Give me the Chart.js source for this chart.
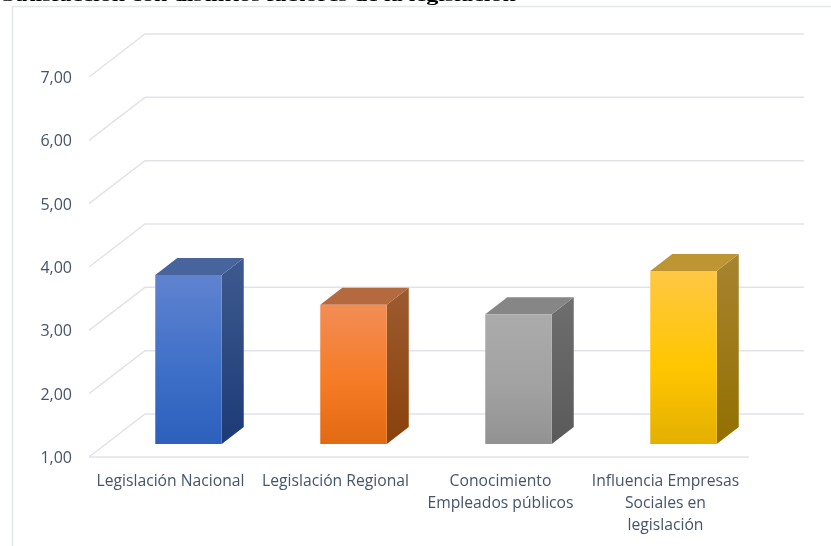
<!DOCTYPE html>
<html>
<head>
<meta charset="utf-8">
<style>
    html, body { margin: 0; padding: 0; background: #fff; }
    #wrap { position: relative; width: 831px; height: 546px; overflow: hidden; }
    #title { position: absolute; left: 2px; top: -13px; font: bold 16px "Liberation Serif", serif; color: #000; white-space: nowrap; transform: scaleX(1.507); transform-origin: left top; }
    canvas { position: absolute; left: 0; top: 0; }
</style>
<script src="https://cdn.jsdelivr.net/npm/chart.js@4"></script>
</head>
<body>
<div id="wrap">
    <canvas id="satisfaccionChart" width="831" height="546"></canvas>
    <div id="title">Satisfacción con distintos factores de la legislación</div>
</div>
<script>
const categories = [
    'Legislación Nacional',
    'Legislación Regional',
    ['Conocimiento', 'Empleados públicos'],
    ['Influencia Empresas', 'Sociales en', 'legislación']
];
const satisfaccion = [3.67, 3.20, 3.05, 3.73];
const yTicks = [1, 2, 3, 4, 5, 6, 7];

// front: top, middle, bottom of the face. side: top, bottom. lid: flat colour
const frontColors = [
    ['#6083d0', '#3f70c8', '#2c60bc'],
    ['#f28d55', '#f67b26', '#e26a12'],
    ['#ababab', '#a2a2a2', '#929292'],
    ['#ffc843', '#ffc600', '#e4b000']
];
const sideColors = [
    ['#3e5a8f', '#1c3a76'],
    ['#9c5b30', '#8a420a'],
    ['#6e6e6e', '#5a5a5a'],
    ['#a78430', '#927000']
];
const lidColors = ['#48649c', '#b4693f', '#868686', '#bd9633'];

const gridColor = '#e2e3ea';
const wallDepth = { x: 56, y: 43 };
const barDepth = { x: 22, y: 17 };
const barShift = { x: 17, y: 13 }; // bars stand a bit behind the front of the floor

function frontGradient(context) {
    const chart = context.chart;
    const i = context.dataIndex;
    if (!chart.chartArea || i === undefined) return frontColors[0][0];
    const yScale = chart.scales.y;
    const top = yScale.getPixelForValue(satisfaccion[i]);
    const bottom = yScale.getPixelForValue(1);
    const g = chart.ctx.createLinearGradient(0, top, 0, bottom);
    g.addColorStop(0, frontColors[i][0]);
    g.addColorStop(0.55, frontColors[i][1]);
    g.addColorStop(1, frontColors[i][2]);
    return g;
}

// Walls and floor lines, drawn behind everything
const wallsPlugin = {
    id: 'walls',
    beforeDatasetsDraw(chart) {
        const { ctx, chartArea } = chart;
        const yScale = chart.scales.y;
        ctx.save();
        ctx.strokeStyle = gridColor;
        ctx.lineWidth = 1.5;
        yTicks.forEach(v => {
            const y = yScale.getPixelForValue(v);
            ctx.beginPath();
            ctx.moveTo(chartArea.left, y);
            ctx.lineTo(chartArea.left + wallDepth.x, y - wallDepth.y);
            ctx.lineTo(chartArea.right + wallDepth.x - 1, y - wallDepth.y);
            ctx.stroke();
        });
        const y0 = yScale.getPixelForValue(1);
        ctx.beginPath();
        ctx.moveTo(chartArea.left, y0);
        ctx.lineTo(chartArea.right, y0);
        ctx.stroke();
        // outer frame of the chart, it runs off the page
        ctx.lineWidth = 1.5;
        ctx.strokeStyle = '#e4e7ee';
        ctx.beginPath();
        ctx.moveTo(12.5, 546);
        ctx.lineTo(12.5, 6.5);
        ctx.lineTo(831, 6.5);
        ctx.stroke();
        ctx.restore();
    }
};

// Moves the bars back and adds the side and lid faces
const boxPlugin = {
    id: 'box',
    beforeDatasetDraw(chart, args) {
        const ctx = chart.ctx;
        ctx.save();
        ctx.translate(barShift.x, -barShift.y);
        args.meta.data.forEach((bar, i) => {
            const right = bar.x + bar.width / 2;
            const left = bar.x - bar.width / 2;

            const side = ctx.createLinearGradient(0, bar.y - barDepth.y, 0, bar.base);
            side.addColorStop(0, sideColors[i][0]);
            side.addColorStop(1, sideColors[i][1]);
            ctx.fillStyle = side;
            ctx.beginPath();
            ctx.moveTo(right, bar.y);
            ctx.lineTo(right + barDepth.x, bar.y - barDepth.y);
            ctx.lineTo(right + barDepth.x, bar.base - barDepth.y);
            ctx.lineTo(right, bar.base);
            ctx.closePath();
            ctx.fill();

            ctx.fillStyle = lidColors[i];
            ctx.beginPath();
            ctx.moveTo(left, bar.y);
            ctx.lineTo(left + barDepth.x, bar.y - barDepth.y);
            ctx.lineTo(right + barDepth.x, bar.y - barDepth.y);
            ctx.lineTo(right, bar.y);
            ctx.closePath();
            ctx.fill();
        });
    },
    afterDatasetDraw(chart) {
        chart.ctx.restore();
    }
};

new Chart(document.getElementById('satisfaccionChart').getContext('2d'), {
    type: 'bar',
    data: {
        labels: categories,
        datasets: [{
            label: 'Satisfacción',
            data: satisfaccion,
            base: 1,
            backgroundColor: frontGradient,
            borderWidth: 0,
            categoryPercentage: 1,
            barPercentage: 0.403
        }]
    },
    plugins: [wallsPlugin, boxPlugin],
    options: {
        responsive: false,
        animation: false,
        layout: { padding: { top: 77, right: 82, left: 0, bottom: 0 } },
        plugins: { legend: { display: false }, tooltip: { enabled: false } },
        scales: {
            x: {
                grid: { display: false, tickLength: 0 },
                border: { display: false },
                ticks: {
                    color: '#44546a',
                    font: { family: '"Open Sans"', size: 15.7, lineHeight: 1.4 },
                    padding: 14,
                    labelOffset: -1,
                    maxRotation: 0,
                    autoSkip: false
                },
                afterFit(scale) { scale.height = 89; }
            },
            y: {
                min: 1,
                max: 7,
                grid: { display: false, tickLength: 0 },
                border: { display: false },
                afterBuildTicks(scale) { scale.ticks = yTicks.map(v => ({ value: v })); },
                ticks: {
                    color: '#44546a',
                    font: { family: '"Open Sans"', size: 16 },
                    padding: 17,
                    labelOffset: 1.5,
                    callback: v => v.toFixed(2).replace('.', ',')
                },
                afterFit(scale) { scale.width = 89; }
            }
        }
    }
});
</script>
</body>
</html>
